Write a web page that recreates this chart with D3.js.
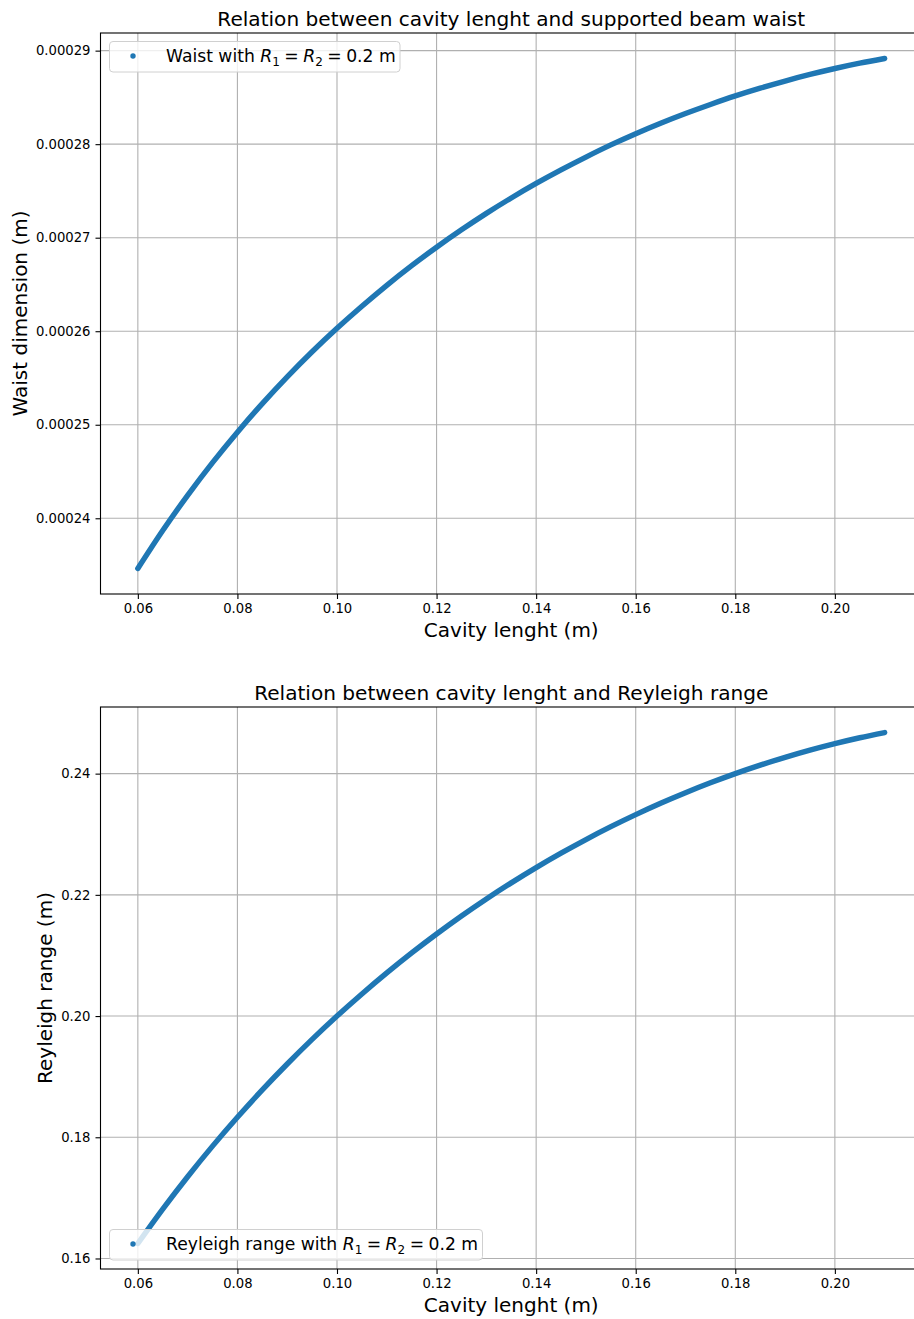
<!DOCTYPE html>
<html>
<head>
<meta charset="utf-8">
<script src="https://cdn.jsdelivr.net/npm/d3@7"></script>
<style>
  body { margin: 0; background: #fff; }
  text { font-family: "DejaVu Sans", sans-serif; fill: #000; }
</style>
</head>
<body>
<div id="chart"></div>
<script>
// cavity length (m)
var cavityLength = [0.060, 0.065, 0.070, 0.075, 0.080, 0.085, 0.090, 0.095, 0.100, 0.105,
  0.110, 0.115, 0.120, 0.125, 0.130, 0.135, 0.140, 0.145, 0.150, 0.155,
  0.160, 0.165, 0.170, 0.175, 0.180, 0.185, 0.190, 0.195, 0.200, 0.205, 0.210];

// beam waist (m)
var waist = [2.3463e-4, 2.3869e-4, 2.4245e-4, 2.4595e-4, 2.4921e-4, 2.5226e-4, 2.5512e-4, 2.5780e-4, 2.6031e-4, 2.6267e-4,
  2.6491e-4, 2.6701e-4, 2.6898e-4, 2.7084e-4, 2.7260e-4, 2.7425e-4, 2.7580e-4, 2.7725e-4, 2.7862e-4, 2.7992e-4,
  2.8112e-4, 2.8224e-4, 2.8328e-4, 2.8425e-4, 2.8516e-4, 2.8599e-4, 2.8675e-4, 2.8745e-4, 2.8809e-4, 2.8866e-4, 2.8916e-4];

// Reyleigh range (m)
var rayleigh = [0.16248, 0.16815, 0.17349, 0.17854, 0.18330, 0.18782, 0.19209, 0.19615, 0.20000, 0.20365,
  0.20712, 0.21042, 0.21354, 0.21651, 0.21932, 0.22198, 0.22450, 0.22688, 0.22913, 0.23125,
  0.23324, 0.23511, 0.23685, 0.23848, 0.24000, 0.24140, 0.24269, 0.24388, 0.24495, 0.24592, 0.24678];

var lengthTicks = [0.06, 0.08, 0.10, 0.12, 0.14, 0.16, 0.18, 0.20];
var waistTicks = [0.00024, 0.00025, 0.00026, 0.00027, 0.00028, 0.00029];
var rayleighTicks = [0.16, 0.18, 0.20, 0.22, 0.24];

var svgWidth = 914, svgHeight = 1319;
var color = "#1f77b4";

var svg = d3.select("#chart").append("svg")
  .attr("width", svgWidth)
  .attr("height", svgHeight);

// matplotlib-like 5% margins
function padded(vals) {
  var lo = d3.min(vals), hi = d3.max(vals), m = (hi - lo) * 0.05;
  return [lo - m, hi + m];
}

var left = 100.5, right = 922;
var xScale = d3.scaleLinear().domain(padded(cavityLength)).range([left, right]);

function drawPanel(opt) {
  var g = svg.append("g");
  var yScale = d3.scaleLinear().domain(padded(opt.values)).range([opt.bottom, opt.top]);

  // grid
  g.append("g").selectAll("line").data(lengthTicks).enter().append("line")
    .attr("x1", d => xScale(d)).attr("x2", d => xScale(d))
    .attr("y1", opt.top).attr("y2", opt.bottom)
    .attr("stroke", "#b0b0b0").attr("stroke-width", 1.1);
  g.append("g").selectAll("line").data(opt.ticks).enter().append("line")
    .attr("x1", left).attr("x2", right)
    .attr("y1", d => yScale(d)).attr("y2", d => yScale(d))
    .attr("stroke", "#b0b0b0").attr("stroke-width", 1.1);

  // data: dense dots drawn as a thick line
  var pts = cavityLength.map((x, i) => [x, opt.values[i]]);
  var line = d3.line()
    .x(d => xScale(d[0]))
    .y(d => yScale(d[1]))
    .curve(d3.curveCatmullRom);
  g.append("path")
    .datum(pts)
    .attr("d", line)
    .attr("fill", "none")
    .attr("stroke", color)
    .attr("stroke-width", 5.4)
    .attr("stroke-linecap", "round");

  // axes
  var bottomAxis = d3.axisBottom(xScale).tickValues(lengthTicks)
    .tickFormat(d3.format(".2f")).tickSize(5).tickPadding(5);
  var leftAxis = d3.axisLeft(yScale).tickValues(opt.ticks)
    .tickFormat(d3.format(opt.fmt)).tickSize(5).tickPadding(5);

  var xa = g.append("g").attr("transform", `translate(0, ${opt.bottom})`).call(bottomAxis);
  var ya = g.append("g").attr("transform", `translate(${left}, 0)`).call(leftAxis);
  [xa, ya].forEach(a => {
    a.select(".domain").remove();
    a.selectAll("line").attr("stroke", "#000").attr("stroke-width", 1.1);
    a.selectAll("text").attr("fill", "#000")
      .style("font-size", "13.2px").style("font-family", "DejaVu Sans");
  });

  // frame
  g.append("rect")
    .attr("x", left).attr("y", opt.top)
    .attr("width", right - left).attr("height", opt.bottom - opt.top)
    .attr("fill", "none").attr("stroke", "#000").attr("stroke-width", 1.1);

  // title and labels
  g.append("text")
    .attr("x", (left + right) / 2).attr("y", opt.top - 7)
    .attr("text-anchor", "middle")
    .style("font-size", "20.1px")
    .text(opt.title);
  g.append("text")
    .attr("x", (left + right) / 2).attr("y", opt.bottom + 43)
    .attr("text-anchor", "middle")
    .style("font-size", "20px")
    .text("Cavity lenght (m)");
  g.append("text")
    .attr("transform", `translate(${opt.ylabelX}, ${(opt.top + opt.bottom) / 2}) rotate(-90)`)
    .attr("text-anchor", "middle")
    .style("font-size", "20px")
    .text(opt.ylabel);

  // legend
  var lg = g.append("g").attr("transform", `translate(109.5, ${opt.legendY})`);
  lg.append("rect")
    .attr("width", opt.legendW).attr("height", 30.5)
    .attr("rx", 3.5)
    .attr("fill", "#fff").attr("fill-opacity", 0.8)
    .attr("stroke", "#d0d0d0").attr("stroke-width", 1);
  lg.append("circle").attr("cx", 23.5).attr("cy", 14.5).attr("r", 2.7).attr("fill", color);
  var t = lg.append("text").attr("x", 56.5).attr("y", 20.5).style("font-size", "17.2px");
  t.append("tspan").text(opt.legendName + " with ");
  t.append("tspan").style("font-style", "italic").text("R");
  t.append("tspan").attr("dy", 4).style("font-size", "12px").text("1");
  t.append("tspan").attr("dy", -4).attr("dx", -1).text(" = ");
  t.append("tspan").attr("dx", -1).style("font-style", "italic").text("R");
  t.append("tspan").attr("dy", 4).style("font-size", "12px").text("2");
  t.append("tspan").attr("dy", -4).attr("dx", -1).text(" = ");
  t.append("tspan").attr("dx", -1).text("0.2 m");
}

drawPanel({
  top: 33, bottom: 594,
  values: waist, ticks: waistTicks, fmt: ".5f",
  title: "Relation between cavity lenght and supported beam waist",
  ylabel: "Waist dimension (m)", ylabelX: 27,
  legendName: "Waist", legendY: 41.5, legendW: 290.5
});

drawPanel({
  top: 707, bottom: 1269,
  values: rayleigh, ticks: rayleighTicks, fmt: ".2f",
  title: "Relation between cavity lenght and Reyleigh range",
  ylabel: "Reyleigh range (m)", ylabelX: 52,
  legendName: "Reyleigh range", legendY: 1229.5, legendW: 373
});
</script>
</body>
</html>
